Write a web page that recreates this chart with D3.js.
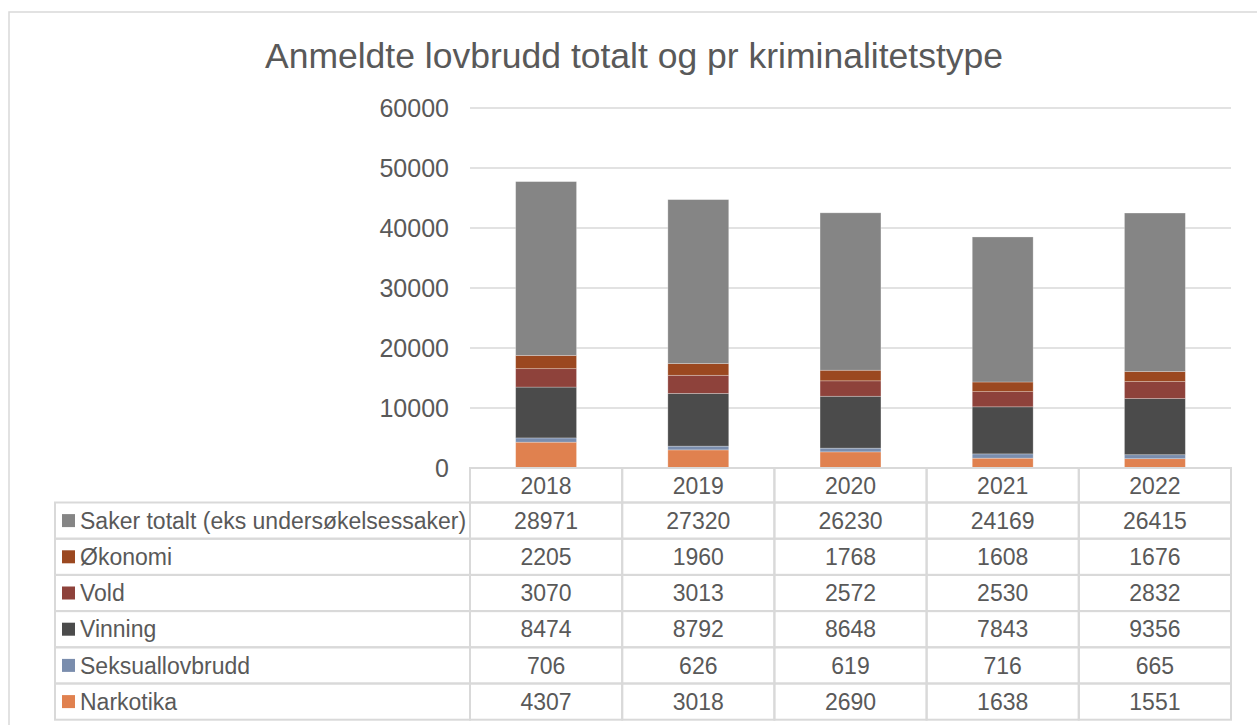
<!DOCTYPE html>
<html>
<head>
<meta charset="utf-8">
<script src="https://cdn.jsdelivr.net/npm/d3@7"></script>
<style>
  body { margin: 0; background: #fff; }
  svg { display: block; font-family: "Liberation Sans", Arial, sans-serif; }
</style>
</head>
<body>
<div id="chart"></div>
<script>
// data (rows in the table order, top to bottom)
const years = ["2018", "2019", "2020", "2021", "2022"];
const seriesNames = ["Saker totalt (eks undersøkelsessaker)", "Økonomi", "Vold", "Vinning", "Seksuallovbrudd", "Narkotika"];
const sakerTotalt = [28971, 27320, 26230, 24169, 26415];
const okonomi = [2205, 1960, 1768, 1608, 1676];
const vold = [3070, 3013, 2572, 2530, 2832];
const vinning = [8474, 8792, 8648, 7843, 9356];
const seksual = [706, 626, 619, 716, 665];
const narkotika = [4307, 3018, 2690, 1638, 1551];
const yTicks = [0, 10000, 20000, 30000, 40000, 50000, 60000];
const colors = ["#858585", "#9b4820", "#8e423b", "#4b4b4b", "#7a8dad", "#e0814f"];

const seriesValues = [sakerTotalt, okonomi, vold, vinning, seksual, narkotika];

const width = 1257, height = 725;
const svg = d3.select("#chart").append("svg")
    .attr("width", width)
    .attr("height", height);

// outer chart border
svg.append("rect")
    .attr("x", 9).attr("y", 12)
    .attr("width", width + 10).attr("height", height + 10)
    .attr("fill", "none")
    .attr("stroke", "#d9d9d9")
    .attr("stroke-width", 1.5);

// title
svg.append("text")
    .attr("x", 634).attr("y", 68)
    .attr("text-anchor", "middle")
    .attr("fill", "#595959")
    .style("font-size", "35.5px")
    .text("Anmeldte lovbrudd totalt og pr kriminalitetstype");

const x = d3.scaleBand().domain(years).range([470, 1231]).padding(0);
const y = d3.scaleLinear().domain([0, 60000]).range([468, 108]);

// gridlines
svg.append("g").selectAll("line")
    .data(yTicks.filter(d => d > 0))
    .enter().append("line")
    .attr("x1", 470).attr("x2", 1231)
    .attr("y1", d => y(d)).attr("y2", d => y(d))
    .attr("stroke", "#d9d9d9")
    .attr("stroke-width", 1.5);

// y axis labels
svg.append("g").selectAll("text")
    .data(yTicks)
    .enter().append("text")
    .attr("x", 449)
    .attr("y", d => y(d))
    .attr("dy", "0.36em")
    .attr("text-anchor", "end")
    .attr("fill", "#595959")
    .style("font-size", "25px")
    .text(d => d);

// stacked bars, bottom series first
const stackOrder = seriesValues.map((v, i) => i).reverse();
const barW = x.bandwidth() * 0.4;
years.forEach((yr, j) => {
    let base = 0;
    stackOrder.forEach(i => {
        const v = seriesValues[i][j];
        svg.append("rect")
            .attr("x", x(yr) + (x.bandwidth() - barW) / 2)
            .attr("y", y(base + v))
            .attr("width", barW)
            .attr("height", y(base) - y(base + v))
            .attr("fill", colors[i])
            .attr("stroke", "rgba(255,255,255,0.35)")
            .attr("stroke-width", 0.75);
        base += v;
    });
});

// data table
const rowH = 36.2;
const headTop = 468, tableTop = 502.5;
const legLeft = 55;
const grid = svg.append("g")
    .attr("stroke", "#d9d9d9")
    .attr("stroke-width", 2)
    .attr("fill", "none");

// header row boxes
years.forEach(yr => {
    grid.append("rect")
        .attr("x", x(yr)).attr("y", headTop)
        .attr("width", x.bandwidth()).attr("height", tableTop - headTop);
});
// body cells
seriesNames.forEach((name, i) => {
    const top = tableTop + i * rowH;
    grid.append("rect")
        .attr("x", legLeft).attr("y", top)
        .attr("width", 470 - legLeft).attr("height", rowH);
    years.forEach(yr => {
        grid.append("rect")
            .attr("x", x(yr)).attr("y", top)
            .attr("width", x.bandwidth()).attr("height", rowH);
    });
});

// year headers
svg.append("g").selectAll("text")
    .data(years)
    .enter().append("text")
    .attr("x", d => x(d) + x.bandwidth() / 2)
    .attr("y", (headTop + tableTop) / 2)
    .attr("dy", "0.36em")
    .attr("text-anchor", "middle")
    .attr("fill", "#595959")
    .style("font-size", "23px")
    .text(d => d);

// legend keys + labels + values
seriesNames.forEach((name, i) => {
    const cy = tableTop + i * rowH + rowH / 2;
    svg.append("rect")
        .attr("x", 62).attr("y", cy - 6.5)
        .attr("width", 13).attr("height", 13)
        .attr("fill", colors[i]);
    svg.append("text")
        .attr("x", 80).attr("y", cy)
        .attr("dy", "0.36em")
        .attr("fill", "#595959")
        .style("font-size", "23px")
        .text(name);
    years.forEach((yr, j) => {
        svg.append("text")
            .attr("x", x(yr) + x.bandwidth() / 2)
            .attr("y", cy)
            .attr("dy", "0.36em")
            .attr("text-anchor", "middle")
            .attr("fill", "#595959")
            .style("font-size", "23px")
            .text(seriesValues[i][j]);
    });
});
</script>
</body>
</html>
